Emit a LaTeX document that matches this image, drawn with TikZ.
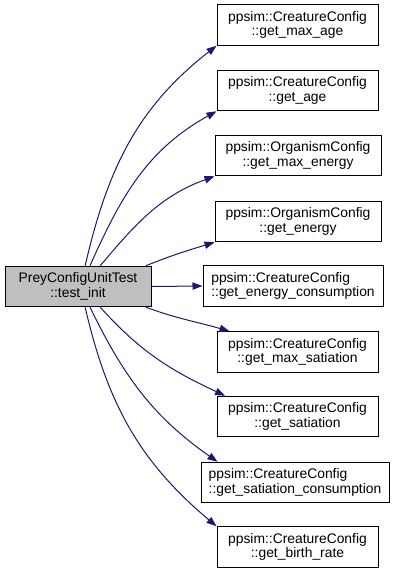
\documentclass[tikz,border=0pt]{standalone}
\usepackage{fontspec}
\setmainfont{Liberation Sans}
\usetikzlibrary{arrows.meta}
\definecolor{edgeblue}{HTML}{191970}
\definecolor{callergray}{HTML}{BFBFBF}

\begin{document}
\begin{tikzpicture}[x=0.75pt, y=0.75pt,
        fn/.style={draw=black, line width=0.75pt, inner sep=0pt, minimum height=30.4pt,
            align=center, font=\fontsize{10.4}{11}\selectfont},
        call/.style={edgeblue, line width=0.75pt, -{Triangle[length=7.5pt, width=5.5pt]}}]
    % keep the margins of the page
    \useasboundingbox (0,0) rectangle (403,-573);

    % the caller on the left
    \node[fn, fill=callergray, minimum width=109.5pt] (caller) at (78,-286.5)
        {PreyConfigUnitTest\\::test\_init};

    % the functions that it calls
    \node[fn, minimum width=120.75pt] (maxage) at (297.5,-25) {ppsim::CreatureConfig\\::get\_max\_age};
    \node[fn, minimum width=120.75pt] (age) at (297.5,-90.5) {ppsim::CreatureConfig\\::get\_age};
    \node[fn, minimum width=124.5pt] (maxenergy) at (298,-155.5) {ppsim::OrganismConfig\\::get\_max\_energy};
    \node[fn, minimum width=124.5pt] (energy) at (298,-221.5) {ppsim::OrganismConfig\\::get\_energy};
    \node[fn, minimum width=135pt, align=left] (energycons) at (293,-286) {ppsim::CreatureConfig\\::get\_energy\_consumption};
    \node[fn, minimum width=120.75pt] (maxsat) at (297.5,-352) {ppsim::CreatureConfig\\::get\_max\_satiation};
    \node[fn, minimum width=120.75pt] (sat) at (297.5,-416.5) {ppsim::CreatureConfig\\::get\_satiation};
    \node[fn, minimum width=141pt, align=left] (satcons) at (295,-482.5) {ppsim::CreatureConfig\\::get\_satiation\_consumption};
    \node[fn, minimum width=120.75pt] (birth) at (297.5,-547) {ppsim::CreatureConfig\\::get\_birth\_rate};

    % calls
    \draw[call] (caller.71) to[out=77, in=218] (maxage.south west);
    \draw[call] (caller.60) to[out=66, in=209] (age.south west);
    \draw[call] (caller.43) to[out=50, in=200] (maxenergy.south west);
    \draw[call] (caller.17) to[out=22, in=197] (energy.south west);
    \draw[call] (caller.east) -- (energycons.west);
    \draw[call] (caller.-17) to[out=-20, in=164] (maxsat.163);
    \draw[call] (caller.-43) to[out=-48, in=155] (sat.164);
    \draw[call] (caller.-60) to[out=-64, in=145] (satcons.165);
    \draw[call] (caller.-71) to[out=-77, in=140] (birth.north west);
\end{tikzpicture}
\end{document}
